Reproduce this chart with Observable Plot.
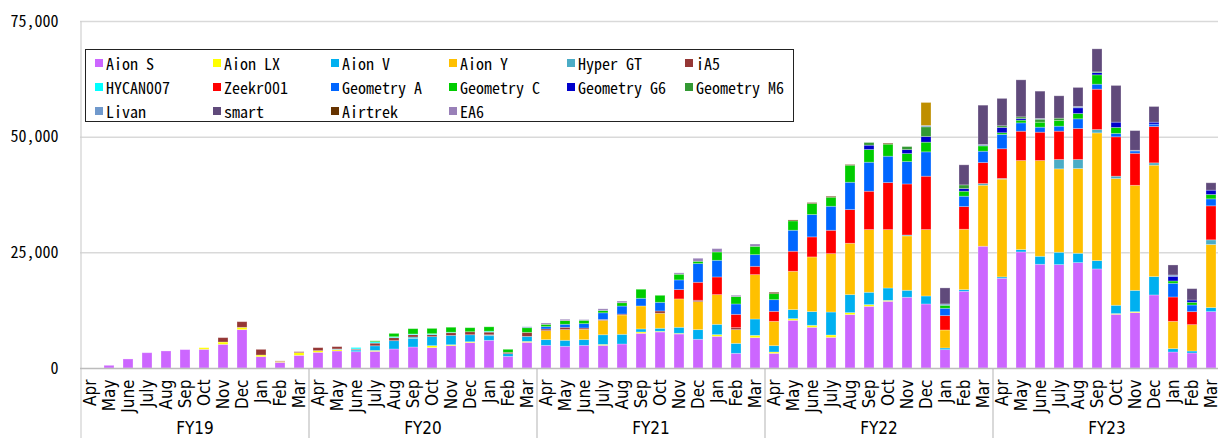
<!DOCTYPE html>
<html>
<head>
<meta charset="utf-8">
<script src="https://cdn.jsdelivr.net/npm/d3@7"></script>
<script src="https://cdn.jsdelivr.net/npm/@observablehq/plot@0.6"></script>
<style>
  html, body { margin: 0; padding: 0; background: #fff; }
  #wrap { position: relative; width: 1218px; height: 438px; overflow: hidden; }
  #legend {
    position: absolute; left: 85px; top: 49px; width: 709px; height: 73px;
    box-sizing: border-box; border: 1px solid #222; background: #fff;
    display: grid; grid-template-columns: repeat(6, 118px); grid-auto-rows: 24px;
    padding: 1px 0 0 9px;
    font-family: "Noto Sans Mono CJK JP", "DejaVu Sans Mono", monospace; font-size: 16px; color: #000;
  }
  .item { display: flex; align-items: center; white-space: nowrap; }
  .sw { width: 8px; height: 8px; margin-right: 3px; flex: none; }
</style>
</head>
<body>
<div id="wrap"><div id="chart"></div><div id="legend"></div></div>
<script>
// ---- categories ----
const fiscalYears = ["FY19", "FY20", "FY21", "FY22", "FY23"];
const months = ["Apr", "May", "June", "July", "Aug", "Sep", "Oct", "Nov", "Dec", "Jan", "Feb", "Mar"];
const yTicks = [0, 25000, 50000, 75000];

// ---- series values (FY19 Apr ... FY23 Mar, 60 months) ----
const aionS = [
  0, 580, 1950, 3300, 3680, 3970, 4040, 5120, 8290, 2450, 1230, 2740,
  3390, 3680, 3530, 3600, 4110, 4540, 4400, 4830, 5480, 5980, 2520, 5550,
  4900, 4690, 4900, 4900, 5190, 7500, 7790, 7350, 6200, 6850, 3170, 6560,
  3170, 10310, 8800, 6630, 11540, 13340, 14420, 15290, 13840, 3970, 16580, 26320,
  19390, 25090, 22420, 22350, 22780, 21410, 11610, 11970, 15790, 3460, 3240, 12190];
const aionLX = [
  0, 0, 0, 0, 0, 0, 350, 500, 500, 360, 200, 580,
  360, 290, 0, 200, 0, 0, 430, 200, 200, 0, 0, 200,
  0, 0, 0, 200, 0, 290, 150, 150, 0, 360, 0, 500,
  290, 360, 430, 500, 430, 360, 200, 0, 0, 0, 0, 0,
  0, 0, 0, 0, 0, 0, 150, 200, 0, 0, 0, 0];
const aionV = [
  0, 0, 0, 0, 0, 0, 0, 0, 0, 0, 0, 0,
  0, 0, 350, 1000, 1800, 1870, 1950, 2020, 1510, 1000, 580, 1080,
  1230, 1300, 1230, 2090, 2090, 650, 650, 1300, 2090, 2230, 2160, 3530,
  1370, 1950, 2960, 4970, 3890, 2670, 2670, 1510, 1730, 360, 360, 0,
  300, 500, 1730, 2670, 2020, 1800, 1800, 4610, 3970, 720, 430, 870];
const aionY = [
  0, 0, 0, 0, 0, 0, 0, 0, 0, 0, 0, 0,
  0, 0, 0, 0, 0, 0, 0, 0, 0, 0, 0, 0,
  1950, 2310, 2230, 3100, 4180, 4970, 3240, 6130, 6060, 6420, 2960, 9590,
  5260, 8290, 11820, 12620, 11100, 13550, 12620, 11750, 14350, 3890, 13050, 13190,
  21130, 19250, 20690, 18020, 18310, 27610, 27400, 22710, 24080, 5910, 5700, 13630];
const hyperGT = [
  0, 0, 0, 0, 0, 0, 0, 0, 0, 0, 0, 0,
  0, 150, 100, 0, 0, 290, 0, 0, 0, 200, 0, 0,
  0, 0, 0, 0, 0, 0, 0, 0, 0, 0, 0, 0,
  0, 0, 0, 0, 0, 0, 0, 200, 0, 0, 0, 360,
  150, 0, 0, 2020, 1950, 720, 500, 0, 500, 0, 0, 1010];
const iA5 = [
  0, 0, 0, 0, 0, 0, 0, 940, 1220, 1220, 100, 200,
  650, 500, 150, 580, 650, 500, 430, 580, 650, 580, 290, 870,
  360, 500, 290, 200, 200, 0, 500, 0, 290, 0, 430, 0,
  0, 0, 0, 0, 0, 0, 0, 0, 0, 0, 0, 0,
  0, 0, 0, 0, 0, 0, 0, 0, 0, 0, 0, 0];
const hycan007 = [
  0, 0, 0, 0, 0, 0, 0, 0, 0, 0, 0, 0,
  0, 0, 300, 290, 200, 150, 200, 100, 0, 200, 0, 0,
  0, 0, 0, 0, 0, 0, 0, 0, 0, 0, 0, 0,
  0, 0, 0, 0, 0, 0, 0, 0, 0, 0, 0, 0,
  0, 0, 0, 0, 0, 0, 0, 0, 0, 0, 0, 0];
const zeekr001 = [
  0, 0, 0, 0, 0, 0, 0, 0, 0, 0, 0, 0,
  0, 0, 0, 0, 0, 0, 0, 0, 0, 0, 0, 0,
  0, 0, 0, 0, 0, 0, 0, 2020, 3890, 3820, 2880, 1800,
  2160, 4330, 4330, 5050, 7280, 8290, 10170, 11030, 11540, 3100, 4900, 4540,
  6420, 6340, 6130, 6130, 6710, 8720, 8510, 6920, 7860, 5260, 2810, 7350];
const geometryA = [
  0, 0, 0, 0, 0, 0, 0, 0, 0, 0, 0, 0,
  0, 0, 0, 0, 0, 0, 0, 0, 0, 0, 0, 0,
  500, 650, 940, 1440, 1730, 1660, 1870, 2090, 4040, 3600, 2240, 2520,
  2520, 4540, 4830, 5190, 5910, 6270, 5700, 4830, 5260, 1590, 2240, 2450,
  3100, 1800, 1080, 1080, 2090, 1080, 720, 500, 500, 2960, 1440, 1510];
const geometryC = [
  0, 0, 0, 0, 0, 0, 0, 0, 0, 0, 0, 0,
  0, 0, 0, 200, 720, 1150, 1150, 1080, 870, 940, 650, 1010,
  500, 790, 720, 500, 720, 1950, 1510, 1230, 500, 1800, 1590, 1800,
  1300, 2020, 2380, 1950, 3680, 2740, 2600, 1730, 2090, 650, 1080, 1150,
  360, 580, 1080, 1230, 1150, 2020, 1300, 0, 0, 500, 580, 940];
const geometryG6 = [
  0, 0, 0, 0, 0, 0, 0, 0, 0, 0, 0, 0,
  0, 0, 0, 0, 0, 0, 0, 0, 0, 0, 0, 0,
  0, 0, 0, 0, 0, 0, 0, 0, 0, 0, 0, 0,
  0, 0, 0, 0, 0, 940, 0, 870, 1230, 0, 580, 0,
  1150, 360, 0, 0, 1230, 500, 1150, 0, 430, 1010, 500, 940];
const geometryM6 = [
  0, 0, 0, 0, 0, 0, 0, 0, 0, 0, 0, 0,
  0, 0, 0, 0, 0, 0, 0, 0, 0, 0, 0, 0,
  0, 0, 0, 0, 0, 0, 0, 0, 0, 0, 0, 0,
  0, 0, 0, 0, 0, 580, 0, 650, 2090, 0, 790, 0,
  360, 360, 650, 500, 0, 150, 0, 0, 0, 0, 0, 0];
const livan = [
  0, 0, 0, 0, 0, 0, 0, 0, 0, 0, 0, 0,
  0, 0, 0, 0, 0, 0, 0, 0, 0, 0, 0, 200,
  0, 0, 0, 0, 0, 0, 0, 0, 0, 0, 0, 0,
  0, 0, 0, 0, 0, 0, 0, 0, 290, 290, 0, 290,
  0, 0, 150, 0, 290, 0, 0, 150, 0, 290, 0, 0];
const smart = [
  0, 0, 0, 0, 0, 0, 0, 0, 0, 0, 0, 0,
  0, 0, 0, 0, 0, 0, 0, 0, 0, 0, 0, 0,
  0, 0, 0, 0, 0, 0, 0, 0, 0, 0, 0, 0,
  0, 0, 0, 0, 0, 0, 0, 0, 0, 3460, 4330, 8510,
  5910, 8000, 5910, 4830, 4110, 4970, 7930, 4250, 3390, 2160, 2450, 1590];
const airtrek = [
  0, 0, 0, 0, 0, 0, 0, 0, 0, 0, 0, 0,
  0, 0, 0, 0, 0, 0, 0, 0, 0, 0, 0, 0,
  0, 0, 0, 0, 0, 0, 0, 0, 0, 0, 0, 0,
  290, 200, 200, 200, 150, 0, 200, 0, 0, 0, 0, 0,
  0, 0, 0, 0, 0, 0, 0, 0, 0, 0, 0, 0];
const ea6 = [
  0, 0, 0, 0, 0, 0, 0, 0, 0, 0, 0, 0,
  0, 0, 0, 0, 0, 0, 0, 0, 0, 0, 0, 0,
  290, 290, 150, 360, 360, 0, 0, 290, 650, 720, 290, 500,
  0, 0, 0, 0, 0, 0, 0, 0, 0, 0, 0, 0,
  0, 0, 0, 0, 0, 0, 0, 0, 0, 0, 0, 0];
// unlabelled gold segment seen on FY22 Dec (not in the legend)
const unlisted = [
  0, 0, 0, 0, 0, 0, 0, 0, 0, 0, 0, 0,
  0, 0, 0, 0, 0, 0, 0, 0, 0, 0, 0, 0,
  0, 0, 0, 0, 0, 0, 0, 0, 0, 0, 0, 0,
  0, 0, 0, 0, 0, 0, 0, 0, 4970, 0, 0, 0,
  0, 0, 0, 0, 0, 0, 0, 0, 0, 0, 0, 0];

const seriesNames = ["Aion S", "Aion LX", "Aion V", "Aion Y", "Hyper GT", "iA5",
  "HYCAN007", "Zeekr001", "Geometry A", "Geometry C", "Geometry G6", "Geometry M6",
  "Livan", "smart", "Airtrek", "EA6", "(other)"];
const seriesColors = ["#cc66ff", "#ffff00", "#00b0f0", "#ffc000", "#4bacc6", "#953735",
  "#00ffff", "#ff0000", "#0066ff", "#00cc00", "#0000cc", "#339933",
  "#7099cc", "#604a7b", "#663300", "#9980b8", "#bf8f00"];
const seriesValues = [aionS, aionLX, aionV, aionY, hyperGT, iA5, hycan007, zeekr001,
  geometryA, geometryC, geometryG6, geometryM6, livan, smart, airtrek, ea6, unlisted];
const legendCount = 16;

// ---- build table ----
const keys = fiscalYears.flatMap(fy => months.map(m => fy + "|" + m));
const rows = [];
seriesValues.forEach((vals, s) => vals.forEach((v, i) => {
  if (v > 0) rows.push({key: keys[i], series: seriesNames[s], value: v});
}));

const narrow = "'Liberation Sans Narrow', 'DejaVu Sans Condensed', 'Roboto', sans-serif";
const mono = "'Noto Sans Mono CJK JP', 'DejaVu Sans Mono', monospace";

const chart = Plot.plot({
  width: 1218, height: 438,
  marginTop: 21, marginBottom: 70, marginLeft: 80, marginRight: 0,
  style: {fontFamily: mono, background: "#fff", color: "#000"},
  x: {domain: keys, range: [80, 1220], paddingInner: 0.5, paddingOuter: 0.25, axis: null},
  y: {domain: [0, 75000], axis: null},
  color: {domain: seriesNames, range: seriesColors},
  marks: [
    Plot.ruleY(yTicks.slice(1), {stroke: "#d9d9d9", strokeWidth: 1.5}),
    Plot.barY(rows, {x: "key", y: "value", fill: "series", order: seriesNames,
      stroke: "#ffffff", strokeOpacity: 0.35, strokeWidth: 0.8}),
    Plot.ruleX([keys[0]], {x: d => d, y1: 75000, y2: 0, dx: -9.5, insetBottom: -70, stroke: "#d0d0d0", strokeWidth: 1.2}),
    Plot.ruleX(fiscalYears.slice(1), {x: d => d + "|Apr", y1: 0, y2: 0, dx: -9.5, insetBottom: -70, stroke: "#c0c0c0", strokeWidth: 1.2}),
    Plot.ruleY([0], {stroke: "#bcbcbc", strokeWidth: 1.5}),
    Plot.axisY(yTicks, {label: null, tickSize: 0, tickPadding: 22, tickFormat: d3.format(","), fontSize: 16, fontFamily: mono, fill: "#000"}),
    Plot.text(keys, {x: d => d, y: 0, text: d => d.split("|")[1], rotate: -90, textAnchor: "end",
      dy: 11, fontSize: 17, fontFamily: narrow, fill: "#000"}),
    Plot.text(fiscalYears, {x: d => d + "|Oct", y: 0, text: d => d, dx: -9.5, dy: 60,
      fontSize: 17, fontFamily: narrow, fill: "#000"})
  ]
});
document.getElementById("chart").appendChild(chart);

// ---- legend ----
const legend = document.getElementById("legend");
seriesNames.slice(0, legendCount).forEach((name, i) => {
  const item = document.createElement("div");
  item.className = "item";
  const sw = document.createElement("span");
  sw.className = "sw";
  sw.style.background = seriesColors[i];
  item.appendChild(sw);
  item.appendChild(document.createTextNode(name));
  legend.appendChild(item);
});
</script>
</body>
</html>
